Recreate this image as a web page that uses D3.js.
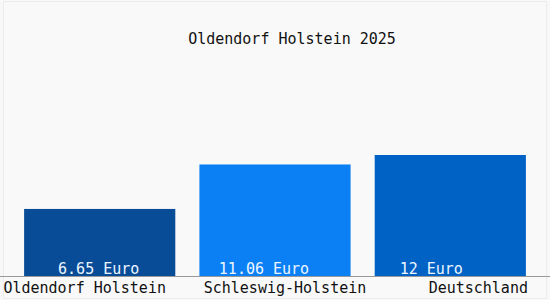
<!DOCTYPE html>
<html>
<head>
<meta charset="utf-8" />
<title>Oldendorf Holstein 2025</title>
<script src="https://d3js.org/d3.v7.min.js"></script>
<style>
  body { margin: 0; background: #f8f8f8; }
  svg { display: block; }
  text { font-family: "DejaVu Sans Mono", monospace; font-size: 15px; }
</style>
</head>
<body>
<svg></svg>
<script>
const title = 'Oldendorf Holstein 2025'
const categories = ['Oldendorf Holstein', 'Schleswig-Holstein', 'Deutschland']
const values = [6.65, 11.06, 12]
const valueLabels = ['6.65 Euro', '11.06 Euro', '12 Euro']
const colors = ['#084c98', '#0b80f4', '#0062c5']

// small nudges so labels sit where the original put them
const valueShift = [-1, -11, -19]
const catShift = [-15, 10, 28]

const width = 550, height = 300
const baseY = 276

const svg = d3.select('svg')
  .attr('width', width)
  .attr('height', height)

// faint frame
svg.append('rect')
  .attr('x', 3.5).attr('y', 1.5)
  .attr('width', width - 7).attr('height', height - 3)
  .attr('fill', '#f9f9f9')
  .attr('stroke', '#ececec')

const xScale = d3.scaleBand()
  .domain(categories)
  .range([0, 550])
  .paddingInner(0.1375)
  .paddingOuter(0.1375)

const yScale = d3.scaleLinear()
  .domain([0, 12])
  .range([baseY, 155])

svg.selectAll('.bar')
  .data(values)
  .enter()
  .append('rect')
  .attr('class', 'bar')
  .attr('x', (d, i) => xScale(categories[i]))
  .attr('y', d => yScale(d))
  .attr('width', xScale.bandwidth())
  .attr('height', d => baseY - yScale(d))
  .attr('fill', (d, i) => colors[i])

svg.selectAll('.val')
  .data(valueLabels)
  .enter()
  .append('text')
  .attr('class', 'val')
  .attr('x', (d, i) => xScale(categories[i]) + xScale.bandwidth() / 2 + valueShift[i])
  .attr('y', baseY - 2)
  .attr('text-anchor', 'middle')
  .attr('fill', '#eef6ff')
  .text(d => d)

// baseline
svg.append('line')
  .attr('x1', 0).attr('x2', width)
  .attr('y1', baseY + 0.5).attr('y2', baseY + 0.5)
  .attr('stroke', '#999')

svg.selectAll('.cat')
  .data(categories)
  .enter()
  .append('text')
  .attr('class', 'cat')
  .attr('x', (d, i) => xScale(d) + xScale.bandwidth() / 2 + catShift[i])
  .attr('y', 293)
  .attr('text-anchor', 'middle')
  .attr('fill', '#111')
  .text(d => d)

svg.append('text')
  .attr('x', 292)
  .attr('y', 44)
  .attr('text-anchor', 'middle')
  .attr('fill', '#111')
  .text(title)
</script>
</body>
</html>
